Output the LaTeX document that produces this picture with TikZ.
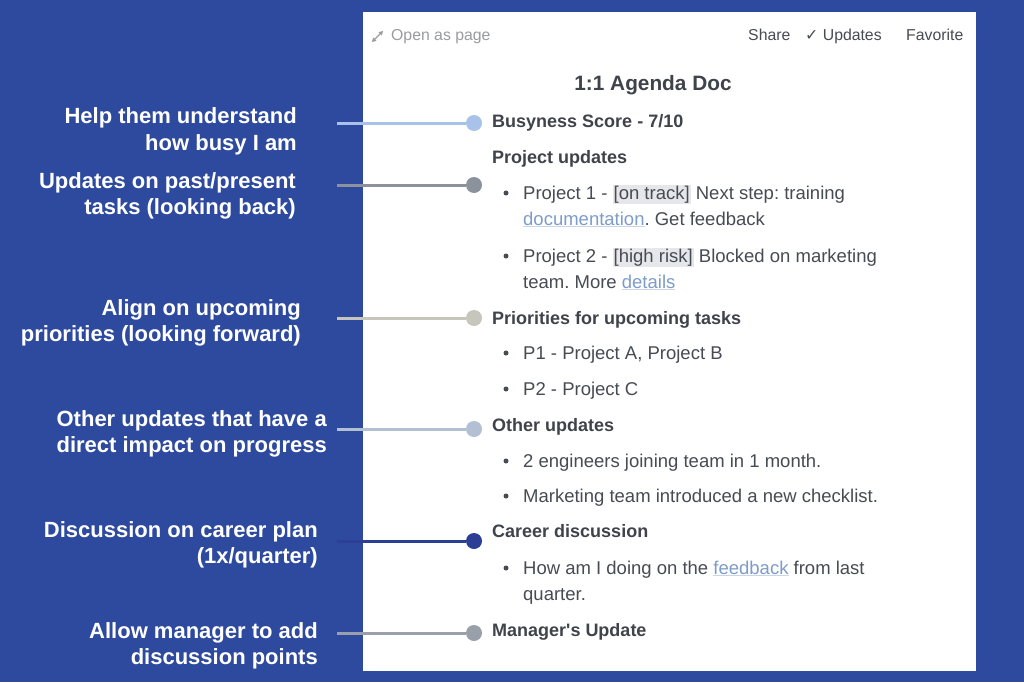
\documentclass[tikz,border=0pt]{standalone}
\usepackage{fontspec}
\setmainfont{Liberation Sans}
\newfontfamily\symfont{DejaVu Sans}
\usetikzlibrary{arrows.meta}
\definecolor{bgblue}{HTML}{2E4A9E}
\definecolor{doctext}{HTML}{474B53}
\definecolor{headtext}{HTML}{3F434A}
\definecolor{faint}{HTML}{9A9B9E}
\definecolor{linkc}{HTML}{7E9CC8}
\definecolor{linkline}{HTML}{C9D5E8}
\definecolor{hlgray}{HTML}{E6E7EA}
\definecolor{cA}{HTML}{A9C2EA}
\definecolor{cB}{HTML}{8C929C}
\definecolor{cC}{HTML}{C6C6BD}
\definecolor{cD}{HTML}{B3BFD2}
\definecolor{cE}{HTML}{2C3F94}
\definecolor{cF}{HTML}{9AA0AA}
\frenchspacing
\newcommand{\hlbox}[1]{{\setlength{\fboxsep}{1pt}\colorbox{hlgray}{#1}}}
\newcommand{\lnk}[1]{{\color{linkline}\underline{\textcolor{linkc}{#1}}}}
\tikzset{
  lbl/.style={anchor=base east, inner sep=0pt, text=white, font=\fontsize{22}{24}\selectfont\bfseries},
  head/.style={anchor=base west, inner sep=0pt, text=headtext, font=\fontsize{18}{22}\selectfont\bfseries},
  item/.style={anchor=base west, inner sep=0pt, text=doctext, font=\fontsize{18.5}{22}\selectfont},
  bar/.style={anchor=base west, inner sep=0pt, font=\fontsize{15.8}{19}\selectfont},
  bul/.style={circle, fill=doctext, inner sep=0pt, minimum size=5pt},
  dot/.style={circle, fill=#1, inner sep=0pt, minimum size=16pt},
  conn/.style={draw=#1, line width=3pt}
}
\begin{document}
\begin{tikzpicture}[x=1pt,y=-1pt]
\fill[bgblue] (0,0) rectangle (1024,682);
\useasboundingbox (0,0) rectangle (1024,682);
\fill[white] (363,12) rectangle (976,671);
% top bar
\coordinate (i1) at (372,42);
\coordinate (i2) at (383,31);
\draw[faint, line width=1.2pt, {Triangle[length=4pt,width=4.5pt]}-{Triangle[length=4pt,width=4.5pt]}] (i1) -- (i2);
\node[bar, text=faint] (open) at (391,41) {Open as page};
\node[bar, text=doctext] (share) at (748,41) {Share};
\node[bar, text=doctext] (upd) at (805,41) {{\symfont ✓} Updates};
\node[bar, text=doctext] (fav) at (906,41) {Favorite};
\node[anchor=base, inner sep=0pt, text=headtext, font=\fontsize{20.8}{24}\selectfont\bfseries] (title) at (653,91) {1:1 Agenda Doc};
% document content
\node[head] (h1) at (492,128) {Busyness Score - 7/10};
\node[head] (h2) at (492,163) {Project updates};
\node[bul] (b1) at (506,193) {};
\node[item] (t1a) at (523,199) {Project 1 - \hlbox{[on track]} Next step: training};
\node[item] (t1b) at (523,225) {\lnk{documentation}. Get feedback};
\node[bul] (b2) at (506,256) {};
\node[item] (t2a) at (523,262) {Project 2 - \hlbox{[high risk]} Blocked on marketing};
\node[item] (t2b) at (523,288) {team. More \lnk{details}};
\node[head] (h3) at (492,324) {Priorities for upcoming tasks};
\node[bul] (b3) at (506,353) {};
\node[item] (t3) at (523,359) {P1 - Project A, Project B};
\node[bul] (b4) at (506,389) {};
\node[item] (t4) at (523,395) {P2 - Project C};
\node[head] (h4) at (492,431) {Other updates};
\node[bul] (b5) at (506,461) {};
\node[item] (t5) at (523,467) {2 engineers joining team in 1 month.};
\node[bul] (b6) at (506,496) {};
\node[item] (t6) at (523,502) {Marketing team introduced a new checklist.};
\node[head] (h5) at (492,537) {Career discussion};
\node[bul] (b7) at (506,568) {};
\node[item] (t7a) at (523,574) {How am I doing on the \lnk{feedback} from last};
\node[item] (t7b) at (523,600) {quarter.};
\node[head] (h6) at (492,636) {Manager\textquotesingle s Update};
% left labels
\node[lbl] (l1a) at (297,124) {Help them understand};
\node[lbl] (l1b) at (297,150) {how busy I am};
\node[lbl] (l2a) at (296,188) {Updates on past/present};
\node[lbl] (l2b) at (296,214) {tasks (looking back)};
\node[lbl] (l3a) at (301,315) {Align on upcoming};
\node[lbl] (l3b) at (301,341) {priorities (looking forward)};
\node[lbl] (l4a) at (327,426) {Other updates that have a};
\node[lbl] (l4b) at (327,452) {direct impact on progress};
\node[lbl] (l5a) at (318,537) {Discussion on career plan};
\node[lbl] (l5b) at (318,563) {(1x/quarter)};
\node[lbl] (l6a) at (318,638) {Allow manager to add};
\node[lbl] (l6b) at (318,664) {discussion points};
% connectors
\coordinate (s1) at (337,123);
\coordinate (s2) at (337,185);
\coordinate (s3) at (337,318);
\coordinate (s4) at (337,429);
\coordinate (s5) at (337,541);
\coordinate (s6) at (337,633);
\node[dot=cA] (d1) at (474,123) {};
\node[dot=cB] (d2) at (474,185) {};
\node[dot=cC] (d3) at (474,318) {};
\node[dot=cD] (d4) at (474,429) {};
\node[dot=cE] (d5) at (474,541) {};
\node[dot=cF] (d6) at (474,633) {};
\draw[conn=cA] (s1) -- (d1);
\draw[conn=cB] (s2) -- (d2);
\draw[conn=cC] (s3) -- (d3);
\draw[conn=cD] (s4) -- (d4);
\draw[conn=cE] (s5) -- (d5);
\draw[conn=cF] (s6) -- (d6);
\end{tikzpicture}
\end{document}
